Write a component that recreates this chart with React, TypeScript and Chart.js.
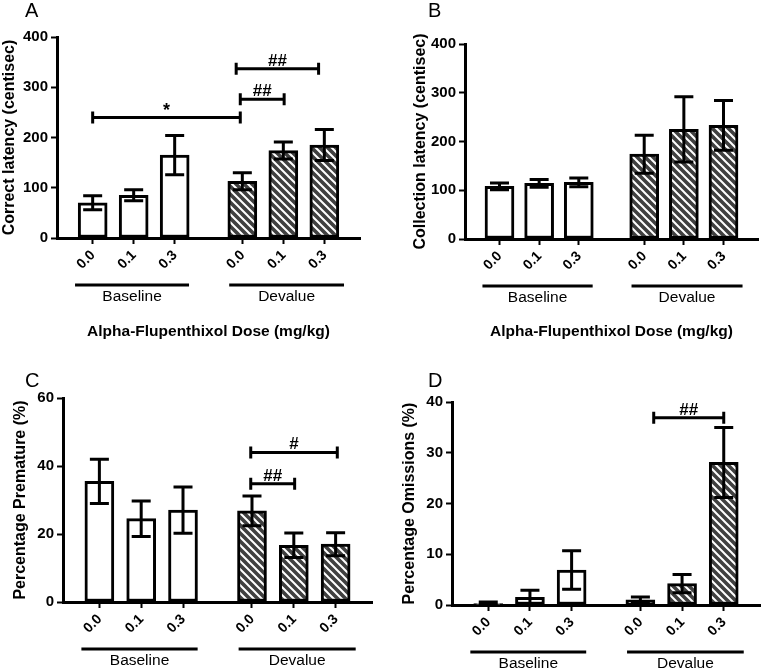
import React, { useEffect, useRef } from 'react';
import { Chart, registerables } from 'chart.js';

Chart.register(...registerables);

// ---------------- data ----------------
const doseLabels = ['0.0', '0.1', '0.3', '0.0', '0.1', '0.3'];
const groupLabels = ['Baseline', 'Devalue'];
const xAxisTitle = 'Alpha-Flupenthixol Dose (mg/kg)';

const correctLatencyMean = [70, 85, 165, 113, 174, 185];
const correctLatencySem = [14, 11, 39, 17, 17, 31];
const correctLatencyTicks = [0, 100, 200, 300, 400];

const collectionLatencyMean = [108, 114, 116, 174, 225, 233];
const collectionLatencySem = [7, 8, 9, 39, 67, 51];
const collectionLatencyTicks = [0, 100, 200, 300, 400];

const prematureMean = [35.5, 24.5, 27, 26.8, 16.7, 17];
const prematureSem = [6.5, 5.2, 6.8, 4.4, 3.6, 3.4];
const prematureTicks = [0, 20, 40, 60];

const omissionsMean = [0.3, 1.5, 6.9, 1.0, 4.2, 28.1];
const omissionsSem = [0.3, 1.4, 3.8, 0.6, 1.8, 6.9];
const omissionsTicks = [0, 10, 20, 30, 40];

// significance brackets (x in bar-slot units, y in data units)
const correctLatencySig = [
  { from: 0, to: 3.6, y: 240, label: '*' },
  { from: 3.6, to: 4.67, y: 276, label: '##' },
  { from: 3.5, to: 5.51, y: 337, label: '##' },
];
const collectionLatencySig: { from: number; to: number; y: number; label: string }[] = [];
const prematureSig = [
  { from: 3.62, to: 5.69, y: 44, label: '#' },
  { from: 3.62, to: 4.67, y: 34.8, label: '##' },
];
const omissionsSig = [{ from: 3.97, to: 5.65, y: 36.9, label: '##' }];

// ---------------- layout ----------------
const barPositions = [0, 1, 2, 3.65, 4.65, 5.65];
const groupSpans = [
  [-0.43, 2.35],
  [3.33, 6.13],
];
const X_MIN = -0.87;
const X_MAX = 6.52;
const FONT = '"Liberation Sans", Arial, Helvetica, sans-serif';
const CAP = 19;

type Sig = { from: number; to: number; y: number; label: string };
type PanelCfg = {
  letter: string;
  yTitle: string;
  mean: number[];
  sem: number[];
  ticks: number[];
  sig: Sig[];
  showXTitle: boolean;
  box: { left: number; top: number; width: number; height: number };
  area: { left: number; right: number; top: number; bottom: number };
  letterPos: [number, number];
  yTitleX: number;
};

const panels: PanelCfg[] = [
  {
    letter: 'A',
    yTitle: 'Correct latency (centisec)',
    mean: correctLatencyMean,
    sem: correctLatencySem,
    ticks: correctLatencyTicks,
    sig: correctLatencySig,
    showXTitle: true,
    box: { left: 0, top: 0, width: 380, height: 345 },
    area: { left: 57, right: 360, top: 37, bottom: 238 },
    letterPos: [25, 17],
    yTitleX: 10,
  },
  {
    letter: 'B',
    yTitle: 'Collection latency (centisec)',
    mean: collectionLatencyMean,
    sem: collectionLatencySem,
    ticks: collectionLatencyTicks,
    sig: collectionLatencySig,
    showXTitle: true,
    box: { left: 380, top: 0, width: 381, height: 345 },
    area: { left: 85, right: 378, top: 44, bottom: 239 },
    letterPos: [48, 17],
    yTitleX: 41,
  },
  {
    letter: 'C',
    yTitle: 'Percentage Premature (%)',
    mean: prematureMean,
    sem: prematureSem,
    ticks: prematureTicks,
    sig: prematureSig,
    showXTitle: false,
    box: { left: 0, top: 345, width: 380, height: 326 },
    area: { left: 63, right: 372, top: 53, bottom: 257 },
    letterPos: [25, 42],
    yTitleX: 20.5,
  },
  {
    letter: 'D',
    yTitle: 'Percentage Omissions (%)',
    mean: omissionsMean,
    sem: omissionsSem,
    ticks: omissionsTicks,
    sig: omissionsSig,
    showXTitle: false,
    box: { left: 380, top: 345, width: 381, height: 326 },
    area: { left: 72, right: 380, top: 57, bottom: 260 },
    letterPos: [48, 42],
    yTitleX: 30,
  },
];

function makeHatch(): CanvasPattern | string {
  const c = document.createElement('canvas');
  c.width = 8;
  c.height = 8;
  const g = c.getContext('2d');
  if (!g) return '#444';
  g.fillStyle = '#404040';
  g.fillRect(0, 0, 8, 8);
  g.strokeStyle = '#ffffff';
  g.lineWidth = 2;
  g.beginPath();
  g.moveTo(-2, -2);
  g.lineTo(10, 10);
  g.moveTo(-2, 6);
  g.lineTo(2, 10);
  g.moveTo(6, -2);
  g.lineTo(10, 2);
  g.stroke();
  return g.createPattern(c, 'repeat') || '#444';
}

function Panel({ cfg }: { cfg: PanelCfg }) {
  const ref = useRef<HTMLCanvasElement>(null);

  useEffect(() => {
    const canvas = ref.current;
    if (!canvas) return;
    const hatch = makeHatch();
    const { box, area } = cfg;
    const yWidth = area.left;
    const xHeight = box.height - area.bottom;

    const overlay = {
      id: 'overlay' + cfg.letter,
      afterDatasetsDraw(chart: any) {
        const { ctx, chartArea } = chart;
        const x = chart.scales.x;
        const y = chart.scales.y;
        ctx.save();
        ctx.strokeStyle = '#000';
        ctx.fillStyle = '#000';
        ctx.lineWidth = 3;
        ctx.lineCap = 'butt';
        // error bars
        cfg.mean.forEach((m, i) => {
          const px = x.getPixelForValue(barPositions[i]);
          const top = y.getPixelForValue(m + cfg.sem[i]);
          const bot = y.getPixelForValue(Math.max(0, m - cfg.sem[i]));
          ctx.beginPath();
          ctx.moveTo(px, top);
          ctx.lineTo(px, bot);
          ctx.moveTo(px - CAP / 2, top);
          ctx.lineTo(px + CAP / 2, top);
          ctx.moveTo(px - CAP / 2, bot);
          ctx.lineTo(px + CAP / 2, bot);
          ctx.stroke();
        });
        // rotated dose tick labels, placed at the scale's tick pixels
        ctx.font = `bold 14px ${FONT}`;
        ctx.textAlign = 'center';
        ctx.textBaseline = 'middle';
        doseLabels.forEach((lab, i) => {
          const px = x.getPixelForValue(barPositions[i]);
          ctx.save();
          ctx.translate(px - 6.5, chartArea.bottom + 22);
          ctx.rotate(-Math.PI / 4);
          ctx.fillText(lab, 0, 0);
          ctx.restore();
        });
        // significance brackets
        cfg.sig.forEach((s) => {
          const x1 = x.getPixelForValue(s.from);
          const x2 = x.getPixelForValue(s.to);
          const py = y.getPixelForValue(s.y);
          ctx.beginPath();
          ctx.moveTo(x1, py);
          ctx.lineTo(x2, py);
          ctx.moveTo(x1, py - 6);
          ctx.lineTo(x1, py + 6);
          ctx.moveTo(x2, py - 6);
          ctx.lineTo(x2, py + 6);
          ctx.stroke();
          ctx.textAlign = 'center';
          ctx.textBaseline = 'alphabetic';
          ctx.font = s.label === '*' ? `bold 18px ${FONT}` : `bold 17px ${FONT}`;
          ctx.fillText(s.label, (x1 + x2) / 2, py - (s.label === '*' ? 1 : 3));
        });
        // group lines and labels
        const gy = chartArea.bottom + 47;
        groupSpans.forEach((span, gi) => {
          const x1 = x.getPixelForValue(span[0]);
          const x2 = x.getPixelForValue(span[1]);
          ctx.beginPath();
          ctx.moveTo(x1, gy);
          ctx.lineTo(x2, gy);
          ctx.stroke();
          ctx.font = `15.5px ${FONT}`;
          ctx.textAlign = 'center';
          ctx.textBaseline = 'middle';
          ctx.fillText(groupLabels[gi], (x1 + x2) / 2, gy + 12);
        });
        // x axis title
        if (cfg.showXTitle) {
          ctx.font = `bold 15.5px ${FONT}`;
          ctx.textAlign = 'center';
          ctx.textBaseline = 'middle';
          ctx.fillText(xAxisTitle, (chartArea.left + chartArea.right) / 2, 332);
        }
        // y axis title
        ctx.save();
        ctx.translate(cfg.yTitleX, (chartArea.top + chartArea.bottom) / 2);
        ctx.rotate(-Math.PI / 2);
        ctx.font = `bold 16px ${FONT}`;
        ctx.textAlign = 'center';
        ctx.textBaseline = 'middle';
        ctx.fillText(cfg.yTitle, 0, 0);
        ctx.restore();
        // panel letter
        ctx.font = `20px ${FONT}`;
        ctx.textAlign = 'left';
        ctx.textBaseline = 'alphabetic';
        ctx.fillText(cfg.letter, cfg.letterPos[0], cfg.letterPos[1]);
        ctx.restore();
      },
    };

    const chart = new Chart(canvas, {
      type: 'bar',
      data: {
        datasets: [
          {
            data: cfg.mean.map((v, i) => ({ x: barPositions[i], y: v })),
            backgroundColor: cfg.mean.map((_, i) => (i < 3 ? '#ffffff' : hatch)) as any,
            borderColor: '#000000',
            borderWidth: 3,
            borderSkipped: false,
            barThickness: 29,
          } as any,
        ],
      },
      options: {
        responsive: false,
        animation: false,
        devicePixelRatio: 1,
        layout: {
          padding: { left: 0, top: area.top, right: box.width - area.right, bottom: 0 },
        },
        plugins: {
          legend: { display: false },
          tooltip: { enabled: false },
        },
        scales: {
          x: {
            type: 'linear',
            min: X_MIN,
            max: X_MAX,
            offset: false,
            afterBuildTicks: (s: any) => {
              s.ticks = barPositions.map((v) => ({ value: v }));
            },
            afterFit: (s: any) => {
              s.height = xHeight;
            },
            ticks: {
              display: false,
              autoSkip: false,
            },
            grid: {
              drawOnChartArea: false,
              offset: false,
              tickLength: 6,
              tickWidth: 2,
              tickColor: '#000',
              color: '#000',
            },
            border: { display: true, color: '#000', width: 3 },
          },
          y: {
            min: cfg.ticks[0],
            max: cfg.ticks[cfg.ticks.length - 1],
            afterBuildTicks: (s: any) => {
              s.ticks = cfg.ticks.map((v) => ({ value: v }));
            },
            afterFit: (s: any) => {
              s.width = yWidth;
            },
            ticks: {
              padding: 3,
              color: '#000',
              font: { family: FONT, size: 15, weight: 'bold' },
            },
            grid: {
              drawOnChartArea: false,
              tickLength: 6,
              tickWidth: 2,
              tickColor: '#000',
              color: '#000',
            },
            border: { display: true, color: '#000', width: 3 },
          },
        },
      } as any,
      plugins: [overlay],
    });
    return () => chart.destroy();
  }, [cfg]);

  return (
    <canvas
      ref={ref}
      width={cfg.box.width}
      height={cfg.box.height}
      style={{
        position: 'absolute',
        left: cfg.box.left,
        top: cfg.box.top,
        width: cfg.box.width,
        height: cfg.box.height,
      }}
    />
  );
}

export default function App() {
  return (
    <div
      style={{
        position: 'fixed',
        left: 0,
        top: 0,
        width: 761,
        height: 671,
        background: '#ffffff',
        overflow: 'hidden',
      }}
    >
      {panels.map((p) => (
        <Panel key={p.letter} cfg={p} />
      ))}
    </div>
  );
}
